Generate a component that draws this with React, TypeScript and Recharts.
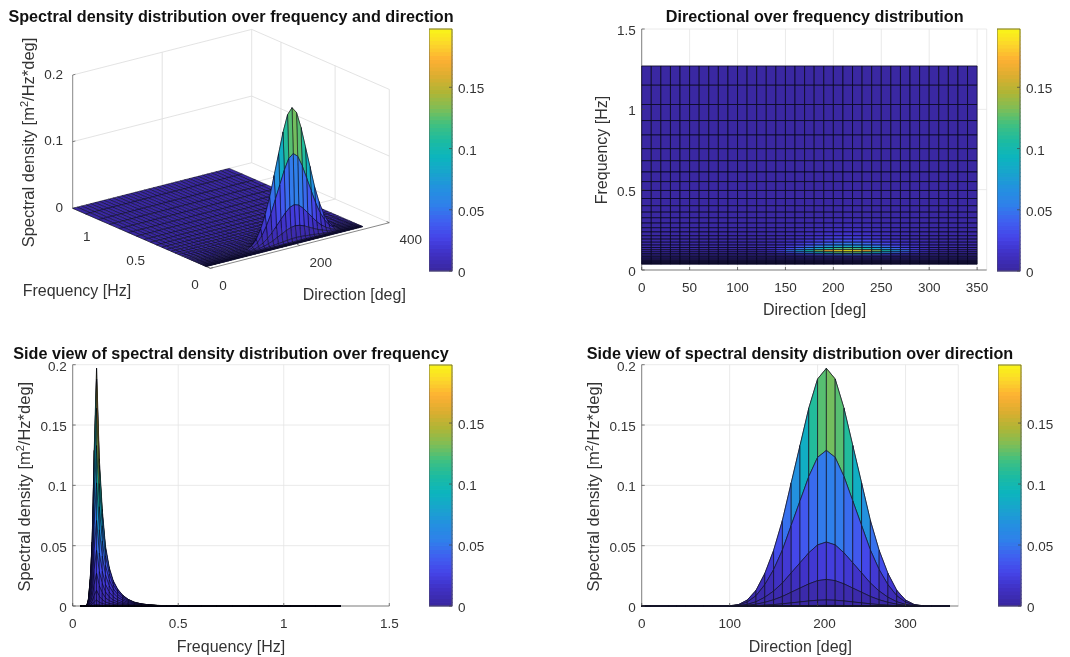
import React from 'react';
import { ScatterChart, Scatter, XAxis, YAxis, CartesianGrid } from 'recharts';

const directions = [0, 10, 20, 30, 40, 50, 60, 70, 80, 90, 100, 110, 120, 130, 140, 150, 160, 170, 180, 190, 200, 210, 220, 230, 240, 250, 260, 270, 280, 290, 300, 310, 320, 330, 340, 350];
const frequencies = [0.036, 0.04, 0.044, 0.049, 0.054, 0.06, 0.067, 0.074, 0.083, 0.092, 0.102, 0.113, 0.126, 0.14, 0.155, 0.173, 0.192, 0.213, 0.237, 0.263, 0.292, 0.325, 0.36, 0.4, 0.445, 0.495, 0.55, 0.61, 0.68, 0.755, 0.84, 0.93, 1.03, 1.15, 1.27];
// Peak density of every frequency row (value at 210 deg)
const rowPeaks = [0, 0, 0, 0, 0, 0, 0.0005, 0.005, 0.022, 0.053, 0.129, 0.197, 0.122, 0.08, 0.05, 0.032, 0.021, 0.014, 0.009, 0.0055, 0.0032, 0.0018, 0.001, 0.0005, 0.0003, 0.0002, 0.0001, 0.0001, 0, 0, 0, 0, 0, 0, 0];
// Relative height of every direction column
const directionShape = [0, 0, 0, 0, 0, 0, 0, 0, 0, 0, 0.001, 0.006, 0.025, 0.066, 0.137, 0.234, 0.36, 0.518, 0.675, 0.832, 0.955, 1, 0.955, 0.832, 0.675, 0.518, 0.36, 0.234, 0.137, 0.066, 0.025, 0.006, 0.001, 0, 0, 0];

const densityMax = 0.1976;
const frequencyTicks3d = [0, 0.5, 1];
const directionTicks3d = [0, 200, 400];
const densityTicks3d = [0, 0.1, 0.2];
const directionTicksTop = [0, 50, 100, 150, 200, 250, 300, 350];
const frequencyTicksTop = [0, 0.5, 1, 1.5];
const frequencyTicksSide = [0, 0.5, 1, 1.5];
const directionTicksSide = [0, 100, 200, 300];
const densityTicksSide = [0, 0.05, 0.1, 0.15, 0.2];
const colorbarTicks = [0, 0.05, 0.1, 0.15];

// colour scale as seen on the reference colorbar
const parula = ['#3a28a2', '#3f30c4', '#4545e8', '#3f60f0', '#2f80ea', '#2490e0', '#18a4cc', '#0cb5bd', '#1dbba0', '#40c080', '#80be55', '#b0b535', '#dcae30', '#fdb033', '#fcd82a', '#f8f815'];

const colorAt = (t: number) => {
  const p = Math.min(Math.max(t, 0), 1) * (parula.length - 1);
  const a = Math.floor(p);
  const b = Math.min(a + 1, parula.length - 1);
  const mix = (s: number) => {
    const ca = parseInt(parula[a].slice(s, s + 2), 16);
    const cb = parseInt(parula[b].slice(s, s + 2), 16);
    return Math.round(ca + (cb - ca) * (p - a));
  };
  return `rgb(${mix(1)},${mix(3)},${mix(5)})`;
};

const density = frequencies.map((_f, i) => directions.map((_d, j) => rowPeaks[i] * directionShape[j]));
const faceColor = (i: number, j: number) => colorAt(density[i][j] / densityMax);

const TEXT = '#333';
const FONT = '"Liberation Sans", Arial, sans-serif';
const TICK_SIZE = 13.5;
const LABEL_SIZE = 16;
const noMark = () => <g />;

// draws the mesh faces from the vertices after the chart scales placed them
const meshLine = (cols: number, order: [number, number][], color: (i: number, j: number) => string, stroke: string, strokeWidth: number) => (props: any) => {
  const pts = props.points;
  const at = (i: number, j: number) => {
    const p = pts[i * cols + j];
    return `${p.x},${p.y}`;
  };
  return (
    <g>
      {order.map(([i, j]) => (
        <polygon
          key={`${i}-${j}`}
          points={`${at(i, j)} ${at(i + 1, j)} ${at(i + 1, j + 1)} ${at(i, j + 1)}`}
          fill={color(i, j)}
          stroke={stroke === 'none' ? color(i, j) : stroke}
          strokeWidth={strokeWidth}
          strokeLinejoin="round"
        />
      ))}
    </g>
  );
};

const faceOrder = (rowsDown: boolean, colsDown: boolean, rowFirst = true) => {
  const out: [number, number][] = [];
  const rs = frequencies.slice(0, -1).map((_, i) => i);
  const cs = directions.slice(0, -1).map((_, j) => j);
  if (rowsDown) rs.reverse();
  if (colsDown) cs.reverse();
  if (rowFirst) rs.forEach((i) => cs.forEach((j) => out.push([i, j])));
  else cs.forEach((j) => rs.forEach((i) => out.push([i, j])));
  return out;
};

const surfaceVertices = (pick: (f: number, d: number, z: number) => { x: number; y: number }) =>
  frequencies.flatMap((f, i) => directions.map((d, j) => pick(f, d, density[i][j])));

const TickText = ({ x, y, anchor = 'middle', children }: any) => (
  <text x={x} y={y} textAnchor={anchor} fontSize={TICK_SIZE} fill={TEXT} fontFamily={FONT}>
    {children}
  </text>
);

const bottomTick = (labelY: number, shift: Record<number, number> = {}) => (props: any) => {
  const { x, y, payload } = props;
  return (
    <g>
      <line x1={x} x2={x} y1={y} y2={y - 3} stroke="#444" strokeWidth={0.7} />
      <TickText x={x + (shift[payload.value] || 0)} y={y + labelY}>{payload.value}</TickText>
    </g>
  );
};

const leftTick = (props: any) => {
  const { x, y, payload } = props;
  return (
    <g>
      <line x1={x} x2={x + 3} y1={y} y2={y} stroke="#444" strokeWidth={0.7} />
      <TickText x={x - 6} y={y + 6} anchor="end">{payload.value}</TickText>
    </g>
  );
};

const rightTick = (props: any) => {
  const { x, y, payload } = props;
  return (
    <g>
      <line x1={x} x2={x - 3} y1={y} y2={y} stroke="#444" strokeWidth={0.7} />
      <TickText x={x + 6} y={y + 6} anchor="start">{payload.value}</TickText>
    </g>
  );
};

const Title = ({ x, y, children }: any) => (
  <text x={x} y={y} textAnchor="middle" fontSize={16.2} fontWeight="bold" fill="#111" fontFamily={FONT}>
    {children}
  </text>
);

const AxisText = ({ x, y, rotate, anchor = 'middle', size = LABEL_SIZE, children }: any) => (
  <text
    x={x}
    y={y}
    textAnchor={anchor}
    fontSize={size}
    fill={TEXT}
    fontFamily={FONT}
    transform={rotate ? `rotate(-90 ${x} ${y})` : undefined}
  >
    {children}
  </text>
);

const DensityLabel = ({ x, y }: any) => (
  <AxisText x={x} y={y} rotate size={16.5}>
    Spectral density [m<tspan dy={-6} fontSize={11}>2</tspan>
    <tspan dy={6}>/Hz*deg]</tspan>
  </AxisText>
);

const barLevels = parula.length * 4;
const barVertices = Array.from({ length: barLevels + 1 }, (_, i) => i).flatMap((i) => [
  { x: 0, y: (i / barLevels) * densityMax },
  { x: 1, y: (i / barLevels) * densityMax },
]);
const barOrder = Array.from({ length: barLevels }, (_, i) => [i, 0] as [number, number]);
const barOutline = [
  { x: 0, y: 0 },
  { x: 1, y: 0 },
  { x: 1, y: densityMax },
  { x: 0, y: densityMax },
  { x: 0, y: 0 },
];

const ColorBar = ({ left, top, height }: any) => (
  <div style={{ position: 'absolute', left, top }}>
    <ScatterChart width={80} height={height + 20} margin={{ left: 0, right: 7, top: 8, bottom: 12 }}>
      <XAxis type="number" dataKey="x" domain={[0, 1]} hide />
      <YAxis type="number" dataKey="y" domain={[0, densityMax]} ticks={colorbarTicks} orientation="right" width={50} interval={0} axisLine={false} tickLine={false} tickSize={0} tickMargin={0} tick={rightTick} />
      <Scatter
        data={barVertices}
        isAnimationActive={false}
        shape={noMark}
        line={meshLine(2, barOrder, (i) => colorAt(i / barLevels), 'none', 1.2)}
      />
      <Scatter data={barOutline} isAnimationActive={false} shape={noMark} line={{ stroke: '#555', strokeWidth: 0.8 }} />
    </ScatterChart>
  </div>
);

// view of the 3D panel, in page pixels relative to the front corner of the box
const DIR_SPAN = 400;
const FREQ_SPAN = 1.27;
const DENS_SPAN = 0.2;
const project = (f: number, d: number, z: number) => ({
  x: (d / DIR_SPAN) * 179 - (f / FREQ_SPAN) * 137.6,
  y: (d / DIR_SPAN) * 45.6 + (f / FREQ_SPAN) * 60 + (z / DENS_SPAN) * 133.3,
});

const wire = (pts: [number, number, number][]) => pts.map(([f, d, z]) => project(f, d, z));
const wallGrid = [
  wire([[FREQ_SPAN, 0, 0], [FREQ_SPAN, DIR_SPAN, 0], [0, DIR_SPAN, 0]]),
  wire([[FREQ_SPAN, 0, 0.1], [FREQ_SPAN, DIR_SPAN, 0.1], [0, DIR_SPAN, 0.1]]),
  wire([[FREQ_SPAN, 0, 0.2], [FREQ_SPAN, DIR_SPAN, 0.2], [0, DIR_SPAN, 0.2]]),
  wire([[FREQ_SPAN, DIR_SPAN, 0], [FREQ_SPAN, DIR_SPAN, 0.2]]),
  wire([[FREQ_SPAN, 200, 0], [FREQ_SPAN, 200, 0.2]]),
  wire([[0, DIR_SPAN, 0], [0, DIR_SPAN, 0.2]]),
  wire([[0.5, DIR_SPAN, 0], [0.5, DIR_SPAN, 0.2]]),
  wire([[1, DIR_SPAN, 0], [1, DIR_SPAN, 0.2]]),
  wire([[0.5, 0, 0], [0.5, DIR_SPAN, 0]]),
  wire([[1, 0, 0], [1, DIR_SPAN, 0]]),
  wire([[0, 200, 0], [FREQ_SPAN, 200, 0]]),
];
const axisLines3d = [
  wire([[FREQ_SPAN, 0, 0], [FREQ_SPAN, 0, 0.2]]),
  wire([[FREQ_SPAN, 0, 0], [0, 0, 0], [0, DIR_SPAN, 0]]),
  ...densityTicks3d.map((z) => wire([[FREQ_SPAN, 0, z], [FREQ_SPAN, 6, z]])),
  ...frequencyTicks3d.map((f) => wire([[f, 0, 0], [f, 6, 0]])),
  ...directionTicks3d.map((d) => wire([[0, d, 0], [0.025, d, 0]])),
];

const Panel3d = () => (
  <div style={{ position: 'absolute', left: 0, top: 0 }}>
    <ScatterChart width={535} height={320} margin={{ left: 0, right: 0, top: 0, bottom: 0 }}>
      <XAxis type="number" dataKey="x" domain={[-210.3, 324.7]} hide />
      <YAxis type="number" dataKey="y" domain={[-51.7, 268.3]} hide />
      {wallGrid.map((pts, k) => (
        <Scatter key={k} data={pts} isAnimationActive={false} shape={noMark} line={{ stroke: '#dcdcdc', strokeWidth: 0.8 }} />
      ))}
      {axisLines3d.map((pts, k) => (
        <Scatter key={k} data={pts} isAnimationActive={false} shape={noMark} line={{ stroke: '#555', strokeWidth: 0.7 }} />
      ))}
      <Scatter
        data={surfaceVertices(project)}
        isAnimationActive={false}
        shape={noMark}
        line={meshLine(directions.length, faceOrder(true, true), faceColor, '#0a0a1e', 0.55)}
      />
      <Title x={231} y={22}>Spectral density distribution over frequency and direction</Title>
      <DensityLabel x={34} y={142.5} />
      <AxisText x={22.7} y={296} anchor="start">Frequency [Hz]</AxisText>
      <AxisText x={302.7} y={300} anchor="start">Direction [deg]</AxisText>
      <TickText x={63} y={79} anchor="end">0.2</TickText>
      <TickText x={63} y={145} anchor="end">0.1</TickText>
      <TickText x={63} y={212} anchor="end">0</TickText>
      <TickText x={86.7} y={241}>1</TickText>
      <TickText x={135.7} y={265}>0.5</TickText>
      <TickText x={195} y={289}>0</TickText>
      <TickText x={223} y={290}>0</TickText>
      <TickText x={320.7} y={267}>200</TickText>
      <TickText x={410.7} y={244}>400</TickText>
    </ScatterChart>
  </div>
);

const PanelTop = () => (
  <div style={{ position: 'absolute', left: 535, top: 0 }}>
    <ScatterChart width={535} height={330} margin={{ left: 46.7, right: 535 - 451.7, top: 29, bottom: 30 }}>
      <CartesianGrid stroke="#e4e4e4" strokeWidth={0.8} />
      <XAxis type="number" dataKey="x" domain={[0, 360]} ticks={directionTicksTop} interval={0} height={30} stroke="#555" strokeWidth={0.7} tickLine={false} tickSize={0} tickMargin={0} tick={bottomTick(22)} />
      <YAxis type="number" dataKey="y" domain={[0, 1.5]} ticks={frequencyTicksTop} interval={0} width={60} stroke="#555" strokeWidth={0.7} tickLine={false} tickSize={0} tickMargin={0} tick={leftTick} />
      <Scatter
        data={surfaceVertices((f, d) => ({ x: d, y: f }))}
        isAnimationActive={false}
        shape={noMark}
        line={meshLine(directions.length, faceOrder(true, false), faceColor, '#06061a', 0.75)}
      />
      <Title x={279.7} y={22}>Directional over frequency distribution</Title>
      <AxisText x={279.5} y={315}>Direction [deg]</AxisText>
      <AxisText x={72} y={150} rotate>Frequency [Hz]</AxisText>
    </ScatterChart>
  </div>
);

const PanelSideFrequency = () => (
  <div style={{ position: 'absolute', left: 0, top: 330 }}>
    <ScatterChart width={535} height={327} margin={{ left: 12.7, right: 535 - 389.3, top: 34.7, bottom: 21 }}>
      <CartesianGrid stroke="#e4e4e4" strokeWidth={0.8} />
      <XAxis type="number" dataKey="x" domain={[0, 1.5]} ticks={frequencyTicksSide} interval={0} height={30} stroke="#555" strokeWidth={0.7} tickLine={false} tickSize={0} tickMargin={0} tick={bottomTick(22)} />
      <YAxis type="number" dataKey="y" domain={[0, 0.2]} ticks={densityTicksSide} interval={0} width={60} stroke="#555" strokeWidth={0.7} tickLine={false} tickSize={0} tickMargin={0} tick={leftTick} />
      <Scatter
        data={surfaceVertices((f, _d, z) => ({ x: f, y: z }))}
        isAnimationActive={false}
        shape={noMark}
        line={meshLine(directions.length, faceOrder(false, true, false), faceColor, '#05050f', 0.45)}
      />
      <Title x={231} y={28.5}>Side view of spectral density distribution over frequency</Title>
      <AxisText x={231} y={321.7}>Frequency [Hz]</AxisText>
      <DensityLabel x={30} y={156.7} />
    </ScatterChart>
  </div>
);

const PanelSideDirection = () => (
  <div style={{ position: 'absolute', left: 535, top: 330 }}>
    <ScatterChart width={535} height={327} margin={{ left: 46.7, right: 535 - 423.3, top: 34.7, bottom: 21 }}>
      <CartesianGrid stroke="#e4e4e4" strokeWidth={0.8} />
      <XAxis type="number" dataKey="x" domain={[0, 360]} ticks={directionTicksSide} interval={0} height={30} stroke="#555" strokeWidth={0.7} tickLine={false} tickSize={0} tickMargin={0} tick={bottomTick(22, { 200: 7 })} />
      <YAxis type="number" dataKey="y" domain={[0, 0.2]} ticks={densityTicksSide} interval={0} width={60} stroke="#555" strokeWidth={0.7} tickLine={false} tickSize={0} tickMargin={0} tick={leftTick} />
      <Scatter
        data={surfaceVertices((_f, d, z) => ({ x: d, y: z }))}
        isAnimationActive={false}
        shape={noMark}
        line={meshLine(directions.length, faceOrder(true, false), faceColor, '#16162a', 0.7)}
      />
      <Title x={265} y={28.5}>Side view of spectral density distribution over direction</Title>
      <AxisText x={265.3} y={321.7}>Direction [deg]</AxisText>
      <DensityLabel x={64.5} y={156.7} />
    </ScatterChart>
  </div>
);

export default function App() {
  return (
    <div style={{ position: 'absolute', left: 0, top: 0, width: 1070, height: 657, background: '#fff', overflow: 'hidden', filter: 'blur(0.35px)' }}>
      <Panel3d />
      <PanelTop />
      <PanelSideFrequency />
      <PanelSideDirection />
      <ColorBar left={429} top={21} height={242} />
      <ColorBar left={997} top={21} height={242} />
      <ColorBar left={429} top={357} height={241} />
      <ColorBar left={998} top={357} height={241} />
    </div>
  );
}
